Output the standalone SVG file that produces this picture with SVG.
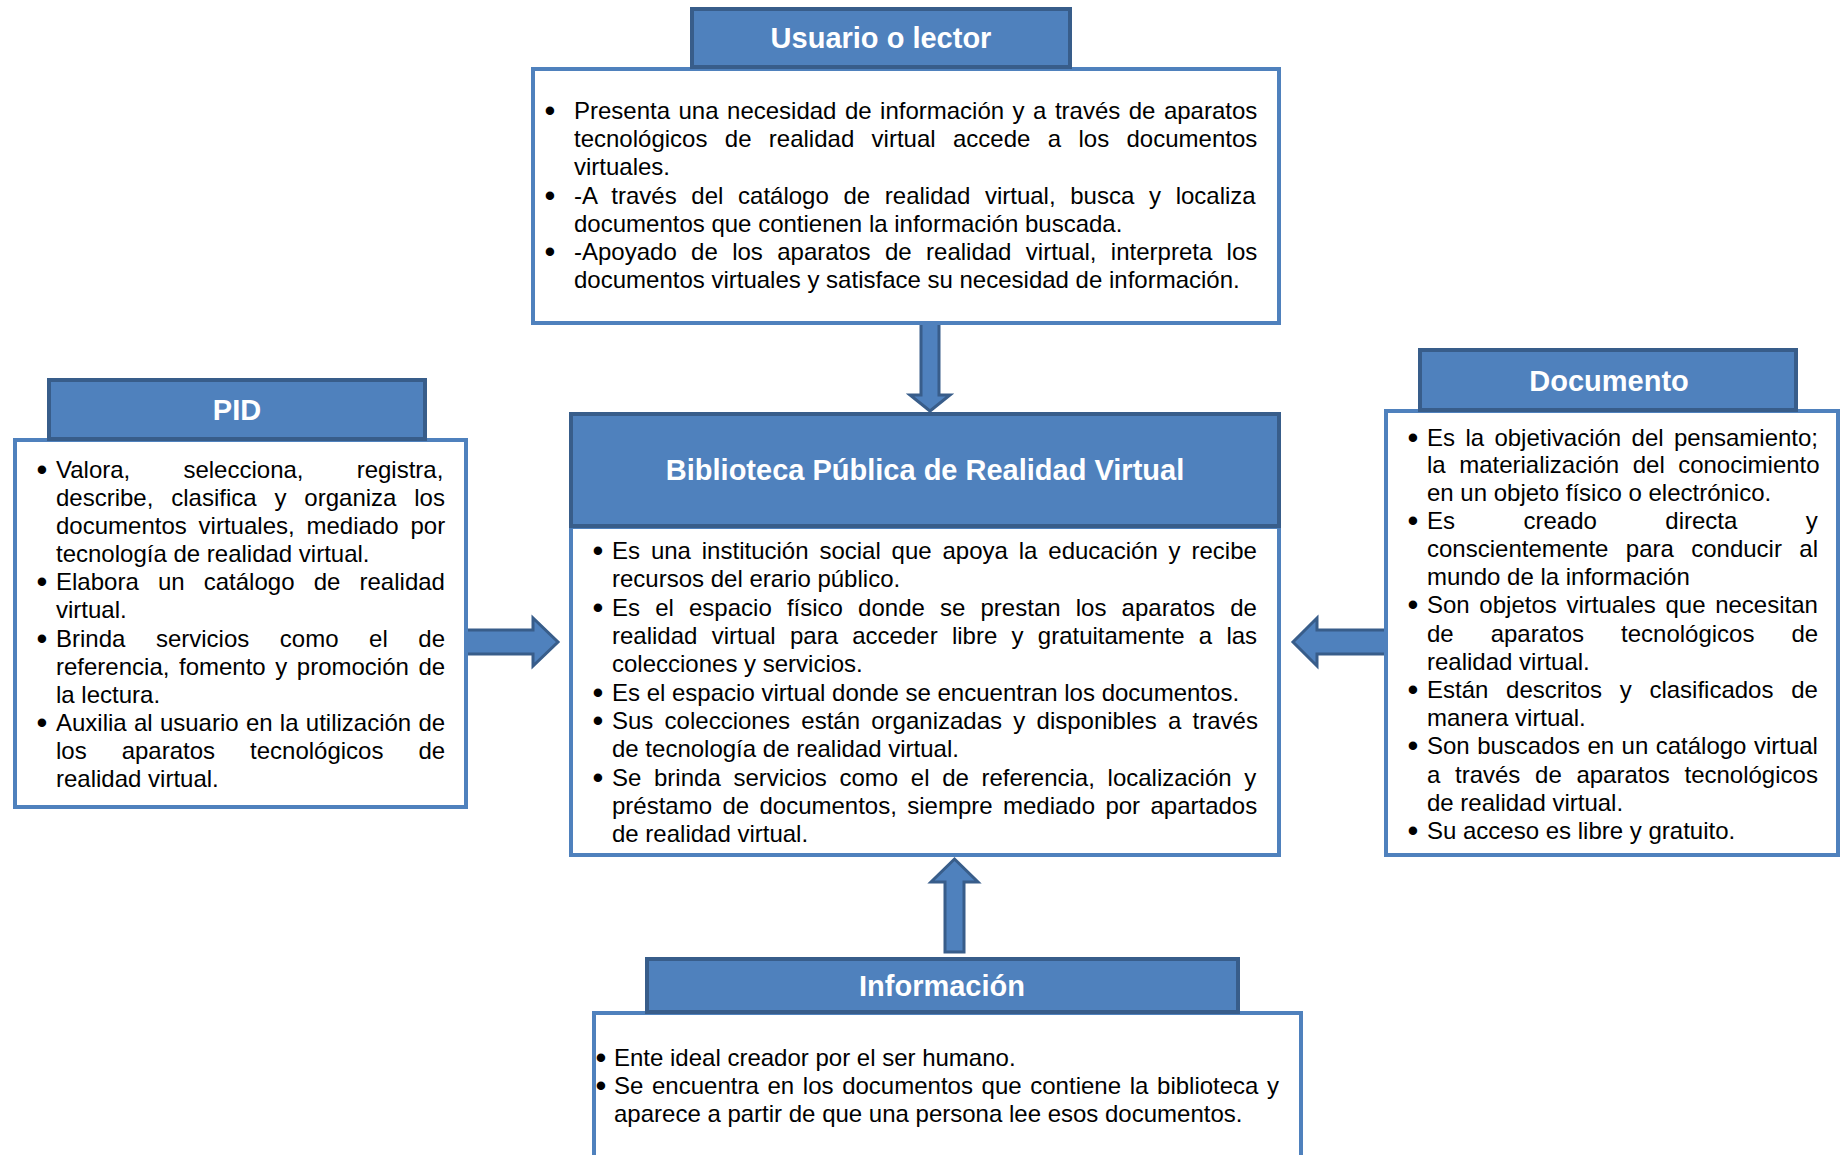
<svg xmlns="http://www.w3.org/2000/svg" width="1845" height="1155" viewBox="0 0 1845 1155">
<style>
.bd{fill:#fff;stroke:#4f81bd;stroke-width:4}
.hd{fill:#4f81bd;stroke:#385d8a;stroke-width:4}
.arr{fill:#4f81bd;stroke:#385d8a;stroke-width:3;stroke-linejoin:miter}
.t{font-family:"Liberation Sans",Arial,sans-serif;font-size:24px;fill:#000}
.b{font-family:"Liberation Sans",Arial,sans-serif;font-size:31px;fill:#000;text-anchor:middle}
.ttl{font-family:"Liberation Sans",Arial,sans-serif;font-size:29px;font-weight:bold;fill:#fff;text-anchor:middle}
</style>
<rect width="1845" height="1155" fill="#fff"/>
<g id="connectors">
<polygon class="arr" points="921,322 939,322 939,395 950,395 930,411 910,395 921,395"/>
<polygon class="arr" points="463,630 533,630 533,618 558,642 533,666 533,654 463,654"/>
<polygon class="arr" points="1386,630 1317,630 1317,618 1293,642 1317,666 1317,654 1386,654"/>
<polygon class="arr" points="945,952 945,882 931,882 954.5,859 978,882 964,882 964,952"/>
</g>
<g id="usuario">
<rect class="bd" x="533" y="69" width="746" height="254"/>
<rect class="hd" x="692" y="9" width="378" height="58"/>
<text class="ttl" x="881" y="48">Usuario o lector</text>
<text class="b" x="550" y="121">•</text>
<text class="b" x="550" y="206">•</text>
<text class="b" x="550" y="262">•</text>
<text class="t" x="574" y="119" word-spacing="1.8">Presenta una necesidad de información y a través de aparatos</text>
<text class="t" x="574" y="147" word-spacing="10.7">tecnológicos de realidad virtual accede a los documentos</text>
<text class="t" x="574" y="175">virtuales.</text>
<text class="t" x="574" y="204" word-spacing="8">-A través del catálogo de realidad virtual, busca y localiza</text>
<text class="t" x="574" y="232">documentos que contienen la información buscada.</text>
<text class="t" x="574" y="260" word-spacing="7.7">-Apoyado de los aparatos de realidad virtual, interpreta los</text>
<text class="t" x="574" y="288">documentos virtuales y satisface su necesidad de información.</text>
</g>
<g id="biblioteca">
<rect class="bd" x="571" y="527" width="708" height="328"/>
<rect class="hd" x="571" y="414" width="708" height="112"/>
<text class="ttl" x="925" y="480">Biblioteca Pública de Realidad Virtual</text>
<text class="b" x="598" y="561">•</text>
<text class="b" x="598" y="618">•</text>
<text class="b" x="598" y="703">•</text>
<text class="b" x="598" y="731">•</text>
<text class="b" x="598" y="788">•</text>
<text class="t" x="612" y="559" word-spacing="4.2">Es una institución social que apoya la educación y recibe</text>
<text class="t" x="612" y="587">recursos del erario público.</text>
<text class="t" x="612" y="616" word-spacing="8.5">Es el espacio físico donde se prestan los aparatos de</text>
<text class="t" x="612" y="644" word-spacing="7.6">realidad virtual para acceder libre y gratuitamente a las</text>
<text class="t" x="612" y="672">colecciones y servicios.</text>
<text class="t" x="612" y="701">Es el espacio virtual donde se encuentran los documentos.</text>
<text class="t" x="612" y="729" word-spacing="4.6">Sus colecciones están organizadas y disponibles a través</text>
<text class="t" x="612" y="757">de tecnología de realidad virtual.</text>
<text class="t" x="612" y="786" word-spacing="6">Se brinda servicios como el de referencia, localización y</text>
<text class="t" x="612" y="814" word-spacing="3.7">préstamo de documentos, siempre mediado por apartados</text>
<text class="t" x="612" y="842">de realidad virtual.</text>
</g>
<g id="pid">
<rect class="bd" x="15" y="440" width="451" height="367"/>
<rect class="hd" x="49" y="380" width="376" height="59"/>
<text class="ttl" x="237" y="420">PID</text>
<text class="b" x="42" y="480">•</text>
<text class="b" x="42" y="592">•</text>
<text class="b" x="42" y="649">•</text>
<text class="b" x="42" y="733">•</text>
<text class="t" x="56" y="478" word-spacing="46.5">Valora, selecciona, registra,</text>
<text class="t" x="56" y="506" word-spacing="11.2">describe, clasifica y organiza los</text>
<text class="t" x="56" y="534" word-spacing="5.2">documentos virtuales, mediado por</text>
<text class="t" x="56" y="562">tecnología de realidad virtual.</text>
<text class="t" x="56" y="590" word-spacing="12.5">Elabora un catálogo de realidad</text>
<text class="t" x="56" y="618">virtual.</text>
<text class="t" x="56" y="647" word-spacing="23.9">Brinda servicios como el de</text>
<text class="t" x="56" y="675" word-spacing="2.9">referencia, fomento y promoción de</text>
<text class="t" x="56" y="703">la lectura.</text>
<text class="t" x="56" y="731" word-spacing="0.6">Auxilia al usuario en la utilización de</text>
<text class="t" x="56" y="759" word-spacing="28.3">los aparatos tecnológicos de</text>
<text class="t" x="56" y="787">realidad virtual.</text>
</g>
<g id="documento">
<rect class="bd" x="1386" y="411" width="452" height="444"/>
<rect class="hd" x="1420" y="350" width="376" height="60"/>
<text class="ttl" x="1609" y="391">Documento</text>
<text class="b" x="1413" y="448">•</text>
<text class="b" x="1413" y="531">•</text>
<text class="b" x="1413" y="615">•</text>
<text class="b" x="1413" y="700">•</text>
<text class="b" x="1413" y="756">•</text>
<text class="b" x="1413" y="841">•</text>
<text class="t" x="1427" y="446" word-spacing="3.7">Es la objetivación del pensamiento;</text>
<text class="t" x="1427" y="473" word-spacing="6.8">la materialización del conocimiento</text>
<text class="t" x="1427" y="501">en un objeto físico o electrónico.</text>
<text class="t" x="1427" y="529" word-spacing="61.8">Es creado directa y</text>
<text class="t" x="1427" y="557" word-spacing="10.7">conscientemente para conducir al</text>
<text class="t" x="1427" y="585">mundo de la información</text>
<text class="t" x="1427" y="613" word-spacing="3">Son objetos virtuales que necesitan</text>
<text class="t" x="1427" y="642" word-spacing="30.3">de aparatos tecnológicos de</text>
<text class="t" x="1427" y="670">realidad virtual.</text>
<text class="t" x="1427" y="698" word-spacing="11">Están descritos y clasificados de</text>
<text class="t" x="1427" y="726">manera virtual.</text>
<text class="t" x="1427" y="754" word-spacing="0.8">Son buscados en un catálogo virtual</text>
<text class="t" x="1427" y="783" word-spacing="8">a través de aparatos tecnológicos</text>
<text class="t" x="1427" y="811">de realidad virtual.</text>
<text class="t" x="1427" y="839">Su acceso es libre y gratuito.</text>
</g>
<g id="informacion">
<rect class="bd" x="594" y="1013" width="707" height="200"/>
<rect class="hd" x="647" y="959" width="591" height="53"/>
<text class="ttl" x="942" y="996">Información</text>
<text class="b" x="601" y="1068">•</text>
<text class="b" x="601" y="1096">•</text>
<text class="t" x="614" y="1066">Ente ideal creador por el ser humano.</text>
<text class="t" x="614" y="1094" word-spacing="2">Se encuentra en los documentos que contiene la biblioteca y</text>
<text class="t" x="614" y="1122">aparece a partir de que una persona lee esos documentos.</text>
</g>
</svg>
